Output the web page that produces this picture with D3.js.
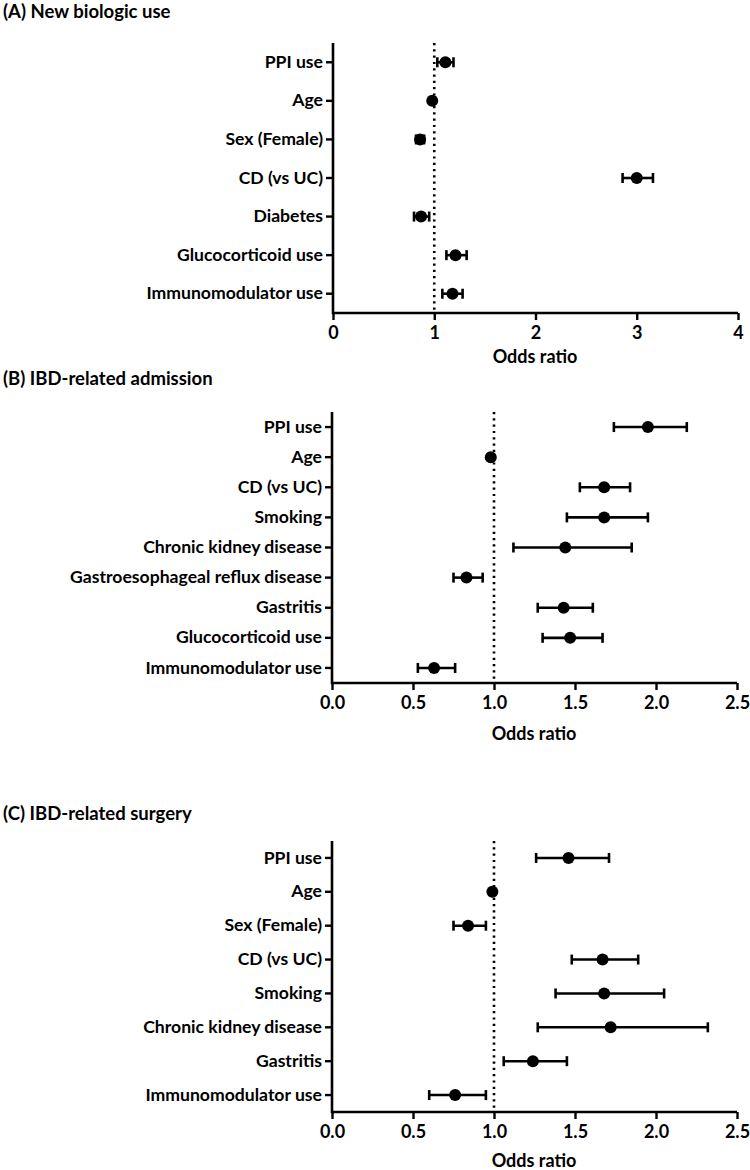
<!DOCTYPE html>
<html>
<head>
<meta charset="utf-8">
<script src="https://cdn.jsdelivr.net/npm/d3@7"></script>
<style>
  body { margin: 0; background: #fff; }
  svg { display: block; }
  text { font-family: Lato, "Open Sans", sans-serif; font-weight: bold; fill: #000; }
</style>
</head>
<body>
<svg id="chart" width="750" height="1170"></svg>
<script>
// ---- Data ----
// Panel A: New biologic use
const catsA = ["PPI use", "Age", "Sex (Female)", "CD (vs UC)", "Diabetes", "Glucocorticoid use", "Immunomodulator use"];
const orA   = [1.11, 0.98, 0.86, 3.00, 0.87, 1.21, 1.18];
const loA   = [1.03, 0.97, 0.82, 2.86, 0.80, 1.12, 1.08];
const hiA   = [1.19, 0.99, 0.90, 3.16, 0.95, 1.32, 1.28];
const ticksA = [0, 1, 2, 3, 4];

// Panel B: IBD-related admission
const catsB = ["PPI use", "Age", "CD (vs UC)", "Smoking", "Chronic kidney disease", "Gastroesophageal reflux disease", "Gastritis", "Glucocorticoid use", "Immunomodulator use"];
const orB   = [1.95, 0.98, 1.68, 1.68, 1.44, 0.83, 1.43, 1.47, 0.63];
const loB   = [1.74, 0.97, 1.53, 1.45, 1.12, 0.75, 1.27, 1.30, 0.53];
const hiB   = [2.19, 0.99, 1.84, 1.95, 1.85, 0.93, 1.61, 1.67, 0.76];
const ticksB = [0.0, 0.5, 1.0, 1.5, 2.0, 2.5];

// Panel C: IBD-related surgery
const catsC = ["PPI use", "Age", "Sex (Female)", "CD (vs UC)", "Smoking", "Chronic kidney disease", "Gastritis", "Immunomodulator use"];
const orC   = [1.46, 0.99, 0.84, 1.67, 1.68, 1.72, 1.24, 0.76];
const loC   = [1.26, 0.98, 0.75, 1.48, 1.38, 1.27, 1.06, 0.60];
const hiC   = [1.71, 1.00, 0.95, 1.89, 2.05, 2.32, 1.45, 0.95];
const ticksC = [0.0, 0.5, 1.0, 1.5, 2.0, 2.5];

const titles = ["(A) New biologic use", "(B) IBD-related admission", "(C) IBD-related surgery"];
const xLabel = "Odds ratio";

const svg = d3.select("#chart");

function panel(opt) {
  const rows = opt.cats.map((c, i) => ({cat: c, or: opt.or[i], lo: opt.lo[i], hi: opt.hi[i]}));
  const x = d3.scaleLinear().domain([opt.ticks[0], opt.ticks[opt.ticks.length - 1]]).range([opt.x0, opt.x1]);
  const y = d3.scaleBand().domain(opt.cats).range([opt.yTop, opt.yBot]);
  const g = svg.append("g");

  // title
  g.append("text").attr("x", 3).attr("y", opt.titleY).attr("font-size", 18.5).text(opt.title);

  // reference line at OR = 1
  g.append("line")
    .attr("x1", x(1)).attr("x2", x(1))
    .attr("y1", opt.yTop).attr("y2", opt.yBot)
    .attr("stroke", "#000").attr("stroke-width", 2.6)
    .attr("stroke-dasharray", "2.2,4.1");

  // x axis
  const xa = g.append("g").attr("transform", `translate(0,${opt.yBot})`)
    .call(d3.axisBottom(x).tickValues(opt.ticks).tickSize(7).tickPadding(6)
      .tickFormat(opt.fmt));
  xa.select(".domain").attr("stroke-width", 2.6).attr("d", `M${opt.x0},0H${opt.x1}`);
  xa.selectAll(".tick line").attr("stroke-width", 2.4);
  xa.selectAll(".tick text").attr("font-size", 18).attr("font-family", "Lato, sans-serif").attr("font-weight", "bold");

  // y axis
  const ya = g.append("g").attr("transform", `translate(${opt.x0},0)`)
    .call(d3.axisLeft(y).tickSize(7).tickPadding(3));
  ya.select(".domain").attr("stroke-width", 2.6).attr("d", `M0,${opt.yTop}V${opt.yBot + 1.3}`);
  ya.selectAll(".tick line").attr("stroke-width", 2.4);
  ya.selectAll(".tick text").attr("font-size", 17.6).attr("font-family", "Lato, sans-serif").attr("font-weight", "bold");

  // x label
  g.append("text")
    .attr("x", opt.labelX).attr("y", opt.labelY)
    .attr("text-anchor", "middle").attr("font-size", 18).text(xLabel);

  const cy = d => y(d.cat) + y.bandwidth() / 2;
  const cap = 5;
  const eb = g.append("g").attr("stroke", "#000").attr("stroke-width", 2.6);
  eb.selectAll(".h").data(rows).join("line")
    .attr("x1", d => x(d.lo)).attr("x2", d => x(d.hi))
    .attr("y1", cy).attr("y2", cy);
  eb.selectAll(".l").data(rows).join("line")
    .attr("x1", d => x(d.lo)).attr("x2", d => x(d.lo))
    .attr("y1", d => cy(d) - cap).attr("y2", d => cy(d) + cap);
  eb.selectAll(".r").data(rows).join("line")
    .attr("x1", d => x(d.hi)).attr("x2", d => x(d.hi))
    .attr("y1", d => cy(d) - cap).attr("y2", d => cy(d) + cap);
  g.append("g").selectAll("circle").data(rows).join("circle")
    .attr("cx", d => x(d.or)).attr("cy", cy).attr("r", 6).attr("fill", "#000");
}

panel({cats: catsA, or: orA, lo: loA, hi: hiA, ticks: ticksA, fmt: d3.format("d"),
  x0: 333, x1: 738, yTop: 43, yBot: 313, title: titles[0], titleY: 18, labelX: 535, labelY: 363});
panel({cats: catsB, or: orB, lo: loB, hi: hiB, ticks: ticksB, fmt: d3.format(".1f"),
  x0: 332, x1: 737, yTop: 412, yBot: 683, title: titles[1], titleY: 385, labelX: 534, labelY: 740});
panel({cats: catsC, or: orC, lo: loC, hi: hiC, ticks: ticksC, fmt: d3.format(".1f"),
  x0: 332, x1: 737, yTop: 841, yBot: 1112, title: titles[2], titleY: 820, labelX: 534, labelY: 1167});
</script>
</body>
</html>
